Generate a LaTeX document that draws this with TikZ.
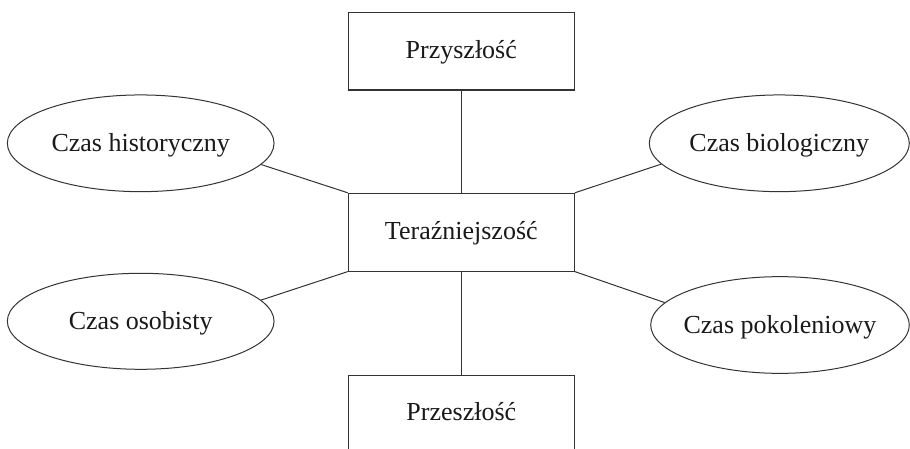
\documentclass[tikz,border=0pt]{standalone}
\usepackage{fontspec}
\setmainfont{Liberation Serif}
\usetikzlibrary{shapes.geometric}
\begin{document}
\begin{tikzpicture}[x=1pt,y=-1pt,
  box/.style={draw=black!80,line width=1.1pt,rectangle,minimum width=226pt,minimum height=77.7pt,inner sep=0pt,text height=18pt,text depth=4pt,font=\fontsize{26}{31}\selectfont,text=black!90},
  oval/.style={draw=black!80,line width=1pt,ellipse,inner ysep=0pt,inner xsep=-40pt,text height=18pt,text depth=1.5pt,font=\fontsize{26}{31}\selectfont,text=black!90},
  link/.style={draw=black!80,line width=1pt}]
\useasboundingbox (0,0) rectangle (910,449);
\clip (0,0) rectangle (910,449);
\node[box] (fut) at (461.3,51.2) {Przyszłość};
\node[box] (now) at (461.3,232.2) {Teraźniejszość};
\node[box] (past) at (461.3,413.9) {Przeszłość};
\node[oval,minimum width=266.7pt,minimum height=96.7pt] (hist) at (140.7,143.3) {Czas historyczny};
\node[oval,minimum width=266.7pt,minimum height=96pt] (pers) at (140.7,321.3) {Czas osobisty};
\node[oval,minimum width=260pt,minimum height=96.7pt] (bio) at (779.3,143.3) {Czas biologiczny};
\node[oval,minimum width=258.6pt,minimum height=96.7pt] (gen) at (780,325) {Czas pokoleniowy};
\draw[link] (fut.south) -- (now.north);
\draw[link] (now.south) -- (past.north);
\draw[link] (now.north west) -- (hist.-10);
\draw[link] (now.south west) -- (pers.10);
\draw[link] (now.north east) -- (bio.190);
\draw[link] (now.south east) -- (gen.169);
\end{tikzpicture}
\end{document}
